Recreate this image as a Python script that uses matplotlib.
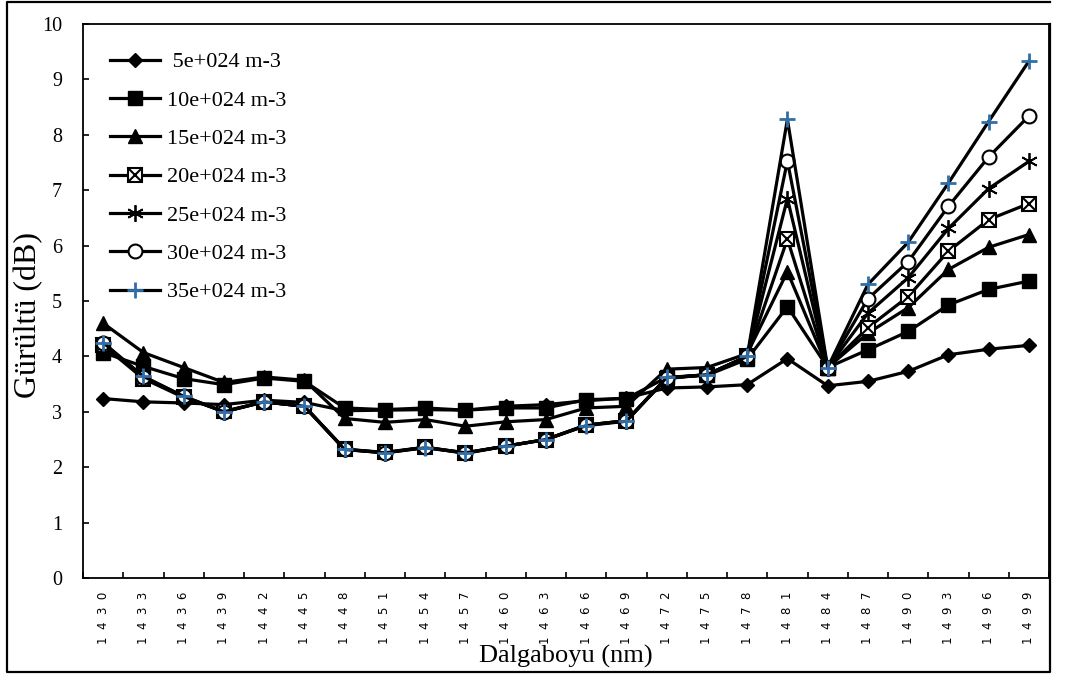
import numpy as np
import matplotlib.pyplot as plt
from matplotlib.lines import Line2D
from matplotlib.legend_handler import HandlerTuple

plt.rcParams.update({'font.family': 'serif'})
plt.rcParams.update({'font.serif': ['Liberation Serif', 'DejaVu Serif']})

# --------------------------------------------------
# Data
# --------------------------------------------------
wavelengths = [1430, 1433, 1436, 1439, 1442, 1445, 1448, 1451, 1454, 1457, 1460, 1463,
               1466, 1469, 1472, 1475, 1478, 1481, 1484, 1487, 1490, 1493, 1496, 1499]

noise_5 = [3.24, 3.18, 3.16, 3.13, 3.21, 3.17, 3.02, 3.03, 3.04, 3.03, 3.1, 3.13,
           3.2, 3.25, 3.43, 3.45, 3.49, 3.96, 3.47, 3.55, 3.73, 4.03, 4.13, 4.2]
noise_10 = [4.07, 3.82, 3.6, 3.49, 3.61, 3.55, 3.07, 3.04, 3.07, 3.03, 3.07, 3.07,
            3.22, 3.24, 3.62, 3.66, 3.95, 4.9, 3.8, 4.12, 4.45, 4.93, 5.21, 5.36]
noise_15 = [4.6, 4.07, 3.8, 3.53, 3.63, 3.57, 2.88, 2.81, 2.86, 2.74, 2.82, 2.86,
            3.07, 3.1, 3.77, 3.8, 4.05, 5.53, 3.8, 4.42, 4.88, 5.57, 5.97, 6.2]
noise_20 = [4.2, 3.6, 3.26, 3.01, 3.18, 3.1, 2.32, 2.27, 2.36, 2.25, 2.38, 2.5,
            2.76, 2.84, 3.6, 3.67, 4.0, 6.12, 3.8, 4.52, 5.08, 5.9, 6.47, 6.76]
noise_25 = [4.22, 3.62, 3.27, 3.0, 3.18, 3.1, 2.32, 2.26, 2.36, 2.26, 2.38, 2.5,
            2.76, 2.84, 3.61, 3.67, 4.0, 6.85, 3.8, 4.78, 5.42, 6.31, 7.03, 7.52]
noise_30 = [4.24, 3.63, 3.28, 3.0, 3.18, 3.1, 2.33, 2.26, 2.36, 2.26, 2.38, 2.5,
            2.76, 2.84, 3.61, 3.67, 4.0, 7.53, 3.8, 5.04, 5.71, 6.71, 7.6, 8.34]
noise_35 = [4.25, 3.64, 3.28, 3.0, 3.18, 3.1, 2.32, 2.26, 2.35, 2.26, 2.38, 2.5,
            2.75, 2.83, 3.62, 3.67, 4.0, 8.28, 3.8, 5.3, 6.06, 7.13, 8.24, 9.33]

labels = [' 5e+024 m-3', '10e+024 m-3', '15e+024 m-3', '20e+024 m-3',
          '25e+024 m-3', '30e+024 m-3', '35e+024 m-3']

# --------------------------------------------------
# Plot
# --------------------------------------------------
fig = plt.figure(figsize=(10.7, 6.77), dpi=100)
ax = fig.add_axes([0.0776, 0.1462, 0.9028, 0.8183])

x = np.arange(len(wavelengths))
lw = 2.3
blue = '#2f6ea8'

h5, = ax.plot(x, noise_5, color='black', lw=lw, marker='D', ms=7, mfc='black', mec='black')
h10, = ax.plot(x, noise_10, color='black', lw=lw, marker='s', ms=10, mfc='black', mec='black')
h15, = ax.plot(x, noise_15, color='black', lw=lw, marker='^', ms=10, mfc='black', mec='black')
h20, = ax.plot(x, noise_20, color='black', lw=lw, marker='s', ms=10, mfc='white', mec='black', mew=1.5)
h20x, = ax.plot(x, noise_20, ls='none', marker='x', ms=9, mec='black', mew=1.5)
h25, = ax.plot(x, noise_25, color='black', lw=lw, marker=(6, 2, 0), ms=12, mec='black', mew=1.3)
h30, = ax.plot(x, noise_30, color='black', lw=lw, marker='o', ms=10, mfc='white', mec='black', mew=1.5)
h35, = ax.plot(x, noise_35, color='black', lw=lw, marker='+', ms=12, mec=blue, mew=2)

ax.set_xlim(-0.5, len(wavelengths) - 0.5)
ax.set_ylim(0, 10)

# category axis: ticks between categories, labels under the categories
ax.set_xticks(np.arange(-0.5, len(wavelengths)), minor=False)
ax.set_xticklabels([])
ax.set_xticks(x, minor=True)
ax.set_xticklabels(['  '.join(str(w)) for w in wavelengths], minor=True, rotation=90)
for lab in ax.get_xticklabels(minor=True):
    lab.set_fontfamily('DejaVu Sans')
    lab.set_fontsize(8.5)
ax.tick_params(axis='x', which='major', direction='in', length=4.5, width=1.2)
ax.tick_params(axis='x', which='minor', length=0, pad=10)
ax.set_yticks(np.arange(0, 11, 1))
ax.tick_params(axis='y', direction='in', length=4.5, width=1.2, labelsize=14.5, pad=15)

for side in ax.spines:
    ax.spines[side].set_linewidth(1.3)

ax.set_xlabel('Dalgaboyu (nm)', fontsize=19, labelpad=0)
ax.set_ylabel('Gürültü (dB)', fontsize=23)
ax.yaxis.set_label_coords(-0.041, 0.475)

handles = [h5, h10, h15, (h20, h20x), h25, h30, h35]
ax.legend(handles, labels, loc='upper left', bbox_to_anchor=(0.019, 0.966),
          frameon=False, fontsize=16, handlelength=2.25, labelspacing=0.8,
          handletextpad=0.3, borderaxespad=0,
          handler_map={tuple: HandlerTuple(ndivide=1)})

# outer chart border (right side shares the plot edge)
W, H = 1070.0, 677.0
bx0, bx1, by0, by1 = 7 / W, 1050 / W, 1 - 672 / H, 1 - 2 / H
fig.add_artist(Line2D([bx1, bx1, bx0, bx0, bx1], [1 - 24 / H, by0, by0, by1, by1],
                      transform=fig.transFigure, color='black', lw=1.6))

fig.savefig('out.png', dpi=100)
